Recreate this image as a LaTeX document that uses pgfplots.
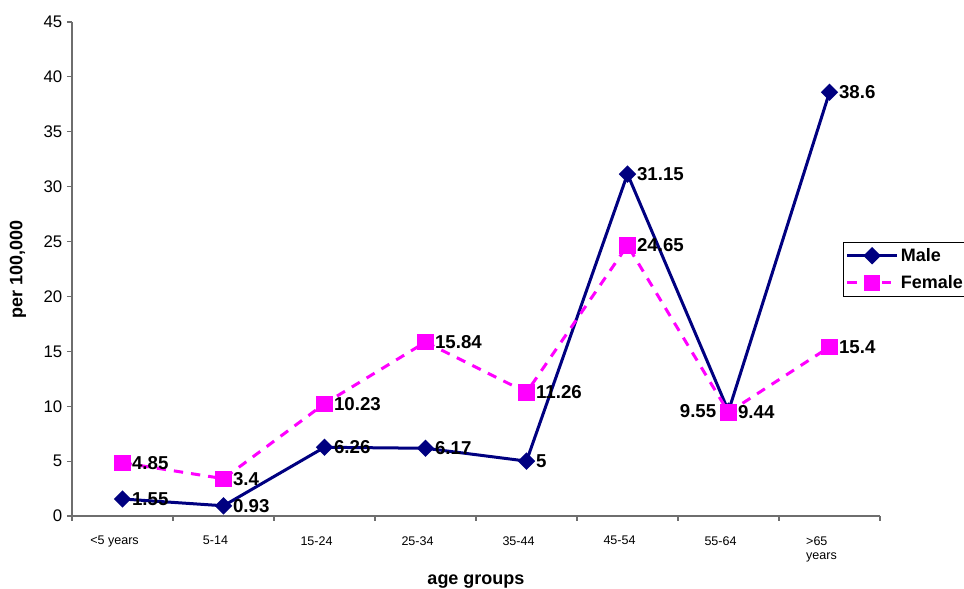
\documentclass[border=0pt]{standalone}
\usepackage{pgfplots}
\pgfplotsset{compat=1.18}
\usepackage{pgfplotstable}
\usepackage{fontspec}
\setmainfont{Liberation Sans}
\definecolor{maleblue}{RGB}{0,0,128}
\definecolor{femalepink}{RGB}{255,0,255}
\definecolor{axisgray}{RGB}{110,110,110}

% x: category index, y: rate per 100,000
\pgfplotstableread{
x y
0 1.55
1 0.93
2 6.26
3 6.17
4 5
5 31.15
6 9.55
7 38.6
}\male
\pgfplotstableread{
x y
0 4.85
1 3.4
2 10.23
3 15.84
4 11.26
5 24.65
6 9.44
7 15.4
}\female

\pgfplotsset{
  labelled/.style={
    forget plot, draw=none, mark=none,
    nodes near coords,
    every node near coord/.append style={font=\fontsize{14pt}{16pt}\selectfont\bfseries,
      anchor=west, xshift=6pt, text=black, inner sep=1pt},
  },
}

\begin{document}
\begin{tikzpicture}
\begin{axis}[
  at={(0,0)}, anchor=south west,
  scale only axis,
  width=606pt, height=370.5pt,
  xmin=-0.5, xmax=7.5,
  ymin=0, ymax=45,
  ytick={0,5,...,45},
  xtick={-0.5,0.5,...,7.5},
  xticklabels={{<5 years},{5-14},{15-24},{25-34},{35-44},{45-54},{55-64},{>65\\years},{}},
  x tick label style={font=\fontsize{9.4pt}{11pt}\selectfont, align=left, anchor=north, xshift=31.9pt, yshift=-8pt},
  y tick label style={font=\fontsize{12.6pt}{14pt}\selectfont},
  /pgf/number format/assume math mode=true,
  axis lines*=left,
  axis line style={axisgray, line width=0.8pt},
  tick style={axisgray, line width=0.8pt},
  tick align=outside,
  major tick length=3.75pt,
  xlabel={\bfseries age groups},
  ylabel={\bfseries per 100,000},
  label style={font=\fontsize{13.5pt}{15pt}\selectfont},
  xlabel style={at={(axis description cs:0.5,-0.132)}, anchor=center},
  ylabel style={at={(axis description cs:-0.067,0.5)}, anchor=center},
  clip=false,
  legend cell align=left,
  legend style={at={(axis description cs:0.954,0.555)}, anchor=north west,
    draw=black, line width=0.6pt, font=\fontsize{13.5pt}{15pt}\selectfont\bfseries,
    inner xsep=2pt, inner ysep=2.5pt, row sep=5pt},
  legend image code/.code={
    \draw[mark repeat=2,mark phase=2] plot coordinates {(0pt,0pt) (18.5pt,0pt) (37pt,0pt)};},
]
\addplot[color=maleblue, line width=2.25pt, mark=square*, mark size=3.5pt,
  mark options={solid, fill=maleblue, rotate=45}] table[x=x, y=y] {\male};
\addlegendentry{Male}
\addplot[color=femalepink, line width=2.25pt, dash pattern=on 7pt off 6pt,
  mark=square*, mark size=5pt, mark options={solid, fill=femalepink}] table[x=x, y=y] {\female};
\addlegendentry{Female}
% value labels
\addplot[labelled, skip coords between index={6}{7}] table[x=x, y=y] {\male};
\addplot[labelled, skip coords between index={0}{6}, skip coords between index={7}{8},
  every node near coord/.append style={anchor=east, xshift=-14pt}] table[x=x, y=y] {\male};
\addplot[labelled] table[x=x, y=y] {\female};
\end{axis}
\pgfresetboundingbox
\path[use as bounding box] (-54pt,-54.75pt) rectangle (669pt,387pt);
\end{tikzpicture}
\end{document}
